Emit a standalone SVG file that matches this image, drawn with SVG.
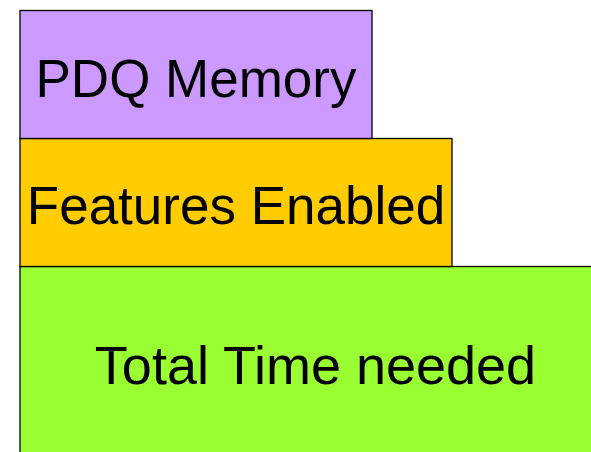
<svg xmlns="http://www.w3.org/2000/svg" width="591" height="452" viewBox="0 0 591 452">
<style>
.box{stroke:#000;stroke-width:1.3}
.lbl{font-family:"Liberation Sans",Arial,sans-serif;font-size:53px;fill:#000;text-anchor:middle}
</style>
<rect width="591" height="452" fill="#fff"/>
<g id="total">
<rect class="box" x="20" y="266.5" width="600" height="200" fill="#99FF33"/>
<text class="lbl" x="315.5" y="384" style="font-size:54px">Total Time needed</text>
</g>
<g id="features">
<rect class="box" x="20" y="138.5" width="432" height="128" fill="#FFCC00"/>
<text class="lbl" x="236" y="224">Features Enabled</text>
</g>
<g id="pdq">
<rect class="box" x="20" y="10.5" width="352" height="128" fill="#CC99FF"/>
<text class="lbl" x="196" y="97">PDQ Memory</text>
</g>
<g id="connectors"/>
</svg>
